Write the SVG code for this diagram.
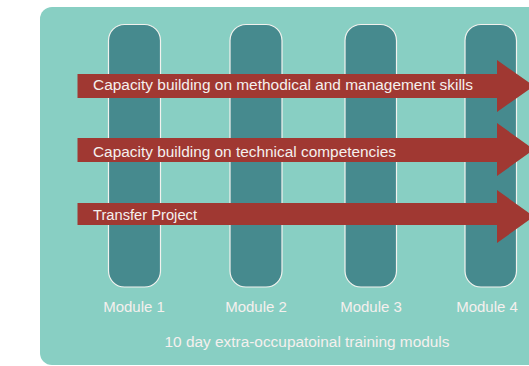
<svg xmlns="http://www.w3.org/2000/svg" width="529" height="366" viewBox="0 0 529 366">
<style>
.col{fill:#468a8e;stroke:#f2f2ee;stroke-width:1.2}
.arrow{fill:#a03832}
.t{font-family:"Liberation Sans",Arial,sans-serif;fill:#f5f0ee}
.at{font-size:14px}
.ml{font-size:15px;text-anchor:middle}
</style>
<rect x="40" y="7" width="540" height="358" rx="12" fill="#88cfc3"/>
<g id="module1"><rect class="col" x="108.5" y="24.5" width="52" height="262.5" rx="16"/><text class="t ml" x="134" y="312">Module 1</text></g>
<g id="module2"><rect class="col" x="230" y="24.5" width="52" height="262.5" rx="16"/><text class="t ml" x="256" y="312">Module 2</text></g>
<g id="module3"><rect class="col" x="345" y="24.5" width="51.5" height="262.5" rx="16"/><text class="t ml" x="371" y="312">Module 3</text></g>
<g id="module4"><rect class="col" x="465" y="24.5" width="51.5" height="262.5" rx="16"/><text class="t ml" x="487" y="312">Module 4</text></g>
<g id="connectors">
<g id="arrow1"><polygon class="arrow" points="77.5,74 497,74 497,60 534,86 497,112 497,98 77.5,98"/><text class="t at" x="93" y="90" textLength="380" lengthAdjust="spacingAndGlyphs">Capacity building on methodical and management skills</text></g>
<g id="arrow2"><polygon class="arrow" points="77.5,138 497,138 497,123 534,149.5 497,176 497,162 77.5,162"/><text class="t at" x="93" y="156.5" textLength="303" lengthAdjust="spacingAndGlyphs">Capacity building on technical competencies</text></g>
<g id="arrow3"><polygon class="arrow" points="77.5,203 497,203 497,190 534,216.5 497,243 497,225 77.5,225"/><text class="t at" x="93" y="219.5" textLength="104" lengthAdjust="spacingAndGlyphs">Transfer Project</text></g>
</g>
<text class="t" x="307" y="347" font-size="14" text-anchor="middle" textLength="285" lengthAdjust="spacingAndGlyphs">10 day extra-occupatoinal training moduls</text>
</svg>
